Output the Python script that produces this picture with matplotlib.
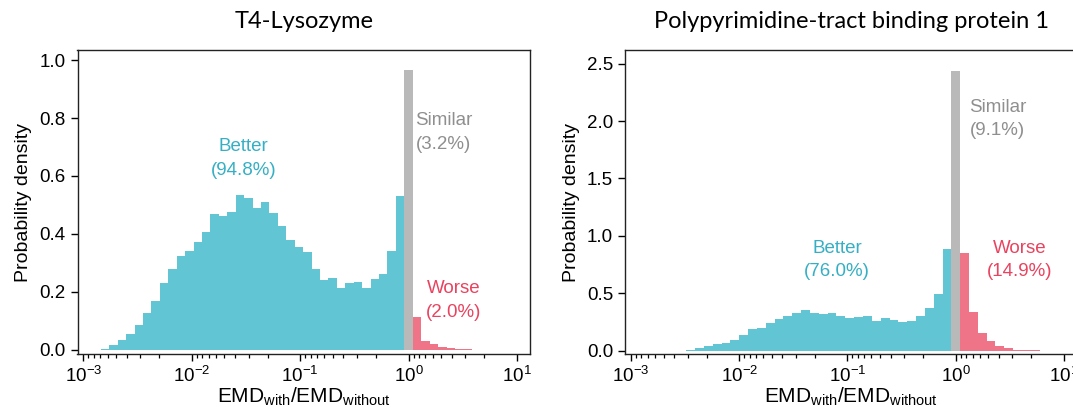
import numpy as np
import matplotlib
matplotlib.use("Agg")
import matplotlib.pyplot as plt
from matplotlib.ticker import FixedLocator, NullFormatter, LogFormatterMathtext

plt.rcParams["font.family"] = ["Liberation Sans", "DejaVu Sans"]
plt.rcParams["mathtext.fontset"] = "custom"
plt.rcParams["mathtext.rm"] = "Liberation Sans"
plt.rcParams["mathtext.it"] = "Liberation Sans:italic"
plt.rcParams["mathtext.bf"] = "Liberation Sans:bold"

# ---- data: log10 bin layout and probability densities ----
t4_better_range = (-2.84, -0.04)
t4_better = [0.003, 0.015, 0.033, 0.053, 0.085, 0.125, 0.169, 0.230, 0.277,
             0.323, 0.340, 0.372, 0.406, 0.468, 0.462, 0.477, 0.534, 0.523,
             0.489, 0.511, 0.471, 0.428, 0.378, 0.355, 0.336, 0.280, 0.241,
             0.248, 0.213, 0.229, 0.232, 0.213, 0.244, 0.262, 0.342, 0.529]
t4_similar = 0.965
t4_worse = [0.113, 0.031, 0.019, 0.009, 0.005, 0.003, 0.002]
t4_pct = {"Better": 94.8, "Similar": 3.2, "Worse": 2.0}

ptb_better_range = (-2.49, -0.04)
ptb_better = [0.006, 0.024, 0.041, 0.058, 0.070, 0.096, 0.134, 0.186, 0.200,
              0.241, 0.276, 0.297, 0.329, 0.355, 0.326, 0.320, 0.329, 0.297,
              0.282, 0.291, 0.299, 0.256, 0.282, 0.268, 0.247, 0.262, 0.303,
              0.369, 0.489, 0.887]
ptb_similar = 2.44
ptb_worse = [0.852, 0.340, 0.151, 0.079, 0.044, 0.020, 0.009, 0.004, 0.002]
ptb_pct = {"Better": 76.0, "Similar": 9.1, "Worse": 14.9}

similar_range = (-0.04, 0.04)

titles = ["T4-Lysozyme", "Polypyrimidine-tract binding protein 1"]

BLUE_BAR, BLUE_TXT = "#62C5D3", "#35AFC4"
GREY_BAR, GREY_TXT = "#B9B9B9", "#8F8F8F"
RED_BAR, RED_TXT = "#F07488", "#E9435F"


def draw_panel(ax, better_range, better, similar, worse, pct, title,
               ylim, yticks, txt_pos):
    n = len(better)
    b_edges = np.linspace(better_range[0], better_range[1], n + 1)
    w = (better_range[1] - better_range[0]) / n
    w_edges = similar_range[1] + w * np.arange(len(worse) + 1)
    s_edges = np.array(similar_range)

    ax.stairs(better, 10 ** b_edges, fill=True, color=BLUE_BAR, lw=0)
    ax.stairs([similar], 10 ** s_edges, fill=True, color=GREY_BAR, lw=0)
    ax.stairs(worse, 10 ** w_edges, fill=True, color=RED_BAR, lw=0)

    ax.set_xscale("log")
    ax.set_xlim(10 ** -3.055, 10 ** 1.12)
    ax.set_ylim(*ylim)
    ax.set_yticks(yticks)
    ax.set_yticklabels([f"{t:.1f}" for t in yticks])
    ax.xaxis.set_major_locator(FixedLocator([1e-3, 1e-2, 1e-1, 1e0, 1e1]))
    ax.xaxis.set_major_formatter(LogFormatterMathtext())
    minors = [10.0 ** (k + 1) / m for k in range(-4, 1) for m in range(2, 10)]
    ax.xaxis.set_minor_locator(FixedLocator(minors))
    ax.xaxis.set_minor_formatter(NullFormatter())
    ax.tick_params(axis="both", which="major", direction="out", length=5,
                   width=1, labelsize=13.5, colors="black")
    ax.tick_params(axis="x", which="minor", direction="out", length=3,
                   width=0.9)
    for sp in ax.spines.values():
        sp.set_linewidth(1.0)
        sp.set_color("#222222")

    ax.set_ylabel("Probability density", fontsize=14, labelpad=5)
    ax.set_xlabel(r"EMD$_{\mathrm{with}}$/EMD$_{\mathrm{without}}$",
                  fontsize=15, labelpad=0)
    ax.set_title(title, fontsize=17, family=["Lato", "DejaVu Sans"], pad=16)

    labels = ["Better", "Similar", "Worse"]
    colors = [BLUE_TXT, GREY_TXT, RED_TXT]
    for lab, col in zip(labels, colors):
        x, y = txt_pos[lab]
        ax.text(x, y, f"{lab}\n({pct[lab]:.1f}%)", color=col, fontsize=13.5,
                ha="center", va="center", linespacing=1.5)


fig = plt.figure(figsize=(10.73, 4.07), dpi=100)
W, H = 1073, 407


def px_axes(x0, x1, ytop, ybot):
    return fig.add_axes([x0 / W, 1 - ybot / H, (x1 - x0) / W, (ybot - ytop) / H])


ax1 = px_axes(77.5, 530, 50, 354)
ax2 = px_axes(625, 1077, 50, 354)

draw_panel(ax1, t4_better_range, t4_better, t4_similar, t4_worse, t4_pct,
           titles[0], (-0.015, 1.035), [0.0, 0.2, 0.4, 0.6, 0.8, 1.0],
           {"Better": (0.03, 0.66), "Similar": (2.1, 0.75), "Worse": (2.6, 0.17)})
draw_panel(ax2, ptb_better_range, ptb_better, ptb_similar, ptb_worse, ptb_pct,
           titles[1], (-0.03, 2.62), [0.0, 0.5, 1.0, 1.5, 2.0, 2.5],
           {"Better": (0.08, 0.79), "Similar": (2.45, 2.02), "Worse": (3.9, 0.79)})

fig.savefig("out.png", dpi=100)
